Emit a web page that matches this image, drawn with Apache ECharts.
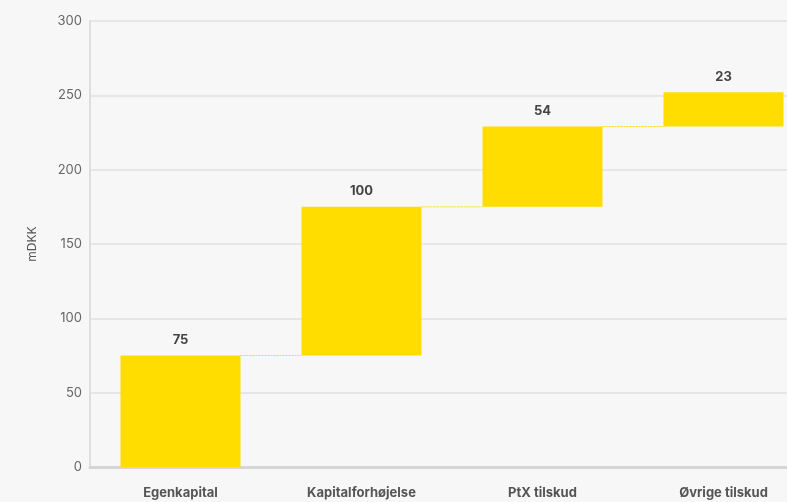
<!DOCTYPE html>
<html><head><meta charset="utf-8">
<script src="https://cdn.jsdelivr.net/npm/echarts@6/dist/echarts.min.js"></script>
<style>html,body{margin:0;padding:0;background:#f7f7f7;overflow:hidden;width:787px;height:502px;}#c{width:841px;height:502px;}</style>
</head><body><div id="c"></div>
<script>
const categories = ['Egenkapital', 'Kapitalforhøjelse', 'PtX tilskud', 'Øvrige tilskud'];
const increments = [75, 100, 54, 23];
const yTicks = [0, 50, 100, 150, 200, 250, 300];

const bases = [];
let acc = 0;
for (const v of increments) { bases.push(acc); acc += v; }
const tops = increments.map((v, i) => bases[i] + v);

const chart = echarts.init(document.getElementById('c'));
const font = 'Inter, "Liberation Sans", sans-serif';
chart.setOption({
  backgroundColor: '#f7f7f7',
  animation: false,
  grid: { left: 90, top: 21, right: 27, bottom: 35 },
  xAxis: {
    type: 'category', data: categories,
    axisTick: { show: false },
    axisLine: { lineStyle: { color: '#d6d6d6', width: 3 } },
    axisLabel: { color: '#555', fontWeight: 'bold', fontSize: 13, fontFamily: font, margin: 20 }
  },
  yAxis: {
    type: 'value', min: yTicks[0], max: yTicks[yTicks.length - 1], interval: 50,
    name: 'mDKK', nameLocation: 'middle', nameGap: 52, nameRotate: 90,
    nameTextStyle: { color: '#555', fontSize: 12, fontFamily: font },
    axisLine: { show: true, lineStyle: { color: '#dedede', width: 2 } },
    axisTick: { show: false },
    splitLine: { lineStyle: { color: '#e6e6e6', width: 2 } },
    axisLabel: { color: '#666', fontSize: 13, fontFamily: font, margin: 8 }
  },
  series: [
    {
      type: 'bar', stack: 'w', data: bases, barWidth: 120,
      itemStyle: { color: 'transparent' }, silent: true
    },
    {
      type: 'bar', stack: 'w', data: increments, barWidth: 120,
      itemStyle: { color: '#ffdd00' },
      label: { show: true, position: 'top', distance: 9, color: '#444', fontWeight: 'bold', fontSize: 13, fontFamily: font }
    },
    {
      type: 'custom', z: 1,
      data: tops.slice(0, -1).map((t, i) => [i, t]),
      renderItem: function (params, api) {
        const i = api.value(0), t = api.value(1);
        const p1 = api.coord([i, t]);
        const p2 = api.coord([i + 1, t]);
        const half = 60;
        return {
          type: 'line',
          shape: { x1: p1[0] + half, y1: p1[1], x2: p2[0] - half, y2: p2[1] },
          style: { stroke: '#ffdd00', lineWidth: 1, lineDash: [2, 1] }
        };
      }
    }
  ]
});
</script></body></html>
